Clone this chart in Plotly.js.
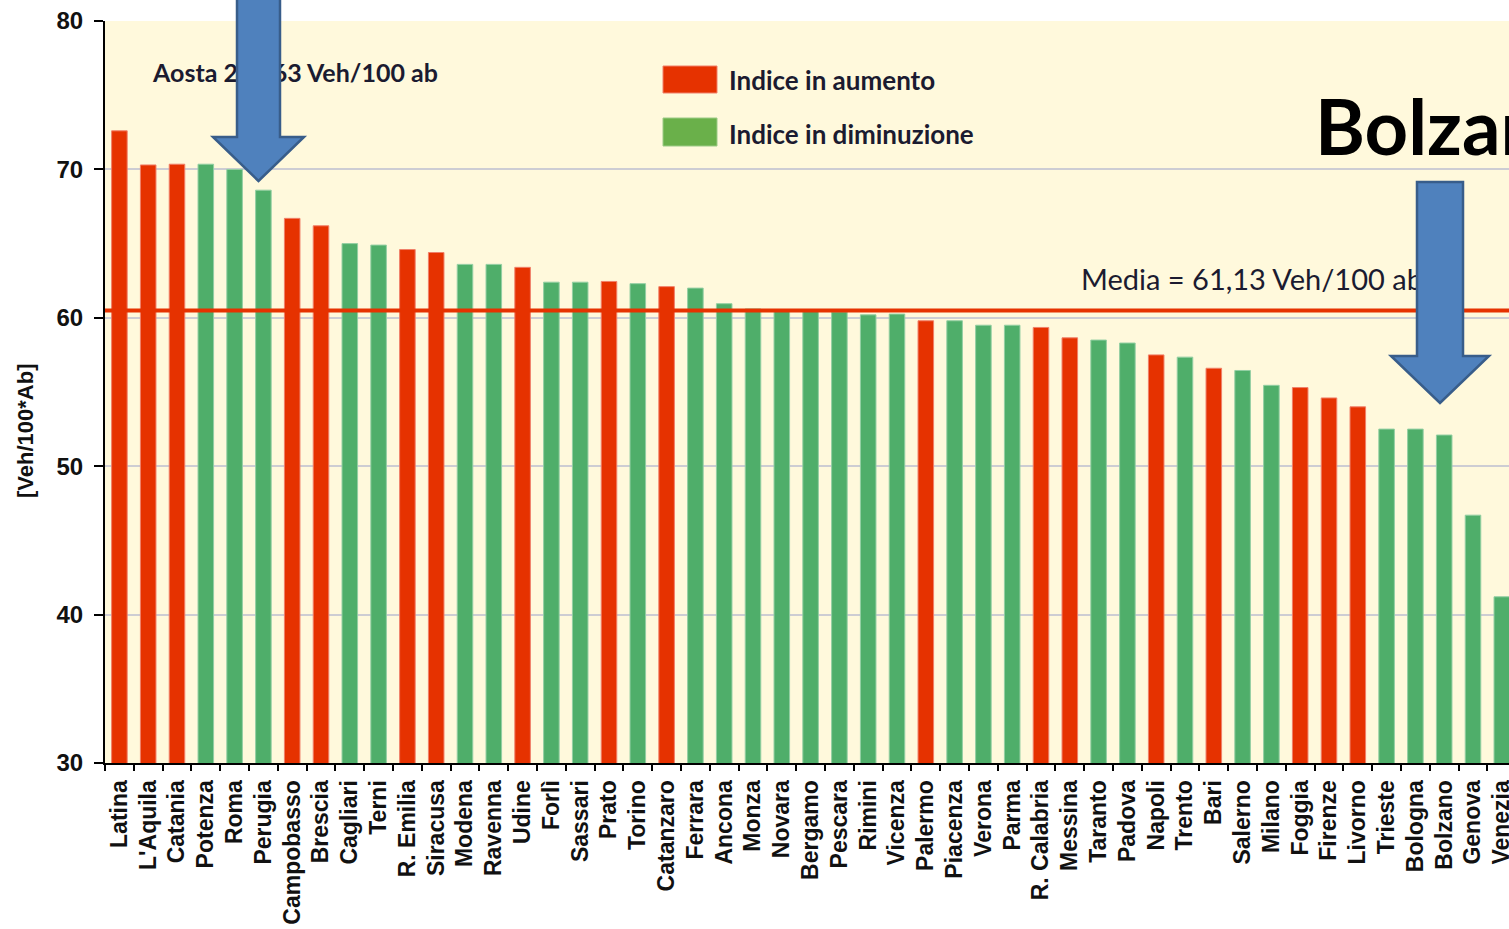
<!DOCTYPE html>
<html>
<head>
<meta charset="utf-8">
<script src="https://cdn.plot.ly/plotly-3.0.1.min.js"></script>
<style>html,body{margin:0;padding:0;background:#fff;}#chart{width:1509px;height:929px;}</style>
</head>
<body>
<div id="chart"></div>
<script>
// ---- data ----
const cities = ["Latina","L'Aquila","Catania","Potenza","Roma","Perugia","Campobasso","Brescia","Cagliari","Terni",
  "R. Emilia","Siracusa","Modena","Ravenna","Udine","Forlì","Sassari","Prato","Torino","Catanzaro",
  "Ferrara","Ancona","Monza","Novara","Bergamo","Pescara","Rimini","Vicenza","Palermo","Piacenza",
  "Verona","Parma","R. Calabria","Messina","Taranto","Padova","Napoli","Trento","Bari","Salerno",
  "Milano","Foggia","Firenze","Livorno","Trieste","Bologna","Bolzano","Genova","Venezia"];
const values = [72.6,70.3,70.35,70.35,70.0,68.6,66.7,66.2,65.0,64.9,
  64.6,64.4,63.6,63.6,63.4,62.4,62.4,62.45,62.3,62.1,
  62.0,60.95,60.6,60.5,60.5,60.4,60.2,60.25,59.8,59.8,
  59.5,59.5,59.35,58.65,58.5,58.3,57.5,57.35,56.6,56.45,
  55.45,55.3,54.6,54.0,52.5,52.5,52.1,46.7,41.2];
// 'A' = Indice in aumento (red), 'D' = Indice in diminuzione (green)
const trend = ["A","A","A","D","D","D","A","A","D","D",
  "A","A","D","D","A","D","D","A","D","A",
  "D","D","D","D","D","D","D","D","A","D",
  "D","D","A","A","D","D","A","D","A","D",
  "D","A","A","A","D","D","D","D","D"];
const legendLabels = ["Indice in aumento","Indice in diminuzione"];
const mediaValue = 60.5;               // position of the drawn average line
const mediaLabel = "Media = 61,13 Veh/100 ab";
const aostaLabel = "Aosta 200,63 Veh/100 ab";
const yTicks = [30,40,50,60,70,80];
const yTitle = "[Veh/100*Ab]";

// ---- styling ----
const RED = "#E63200", RED_EDGE = "#F0806A";
const GREEN = "#4FAE6A", GREEN_EDGE = "#93CFA3";
const LEG_GREEN = "#6AB04A";
const TXT = "#1B1B30";

// plot-area geometry (px) for decorations
const L = 105, R = 1509, T = 21, B = 763;
const px = (x) => (x - L) / (R - L);
const py = (y) => (B - y) / (B - T);
function arrowPath(sl, sr, top, hs, hl, hr, tx, ty) {
  const p = (x, y) => px(x).toFixed(5) + "," + py(y).toFixed(5);
  return "M" + p(sl, top) + " L" + p(sr, top) + " L" + p(sr, hs) + " L" + p(hr, hs) +
         " L" + p(tx, ty) + " L" + p(hl, hs) + " L" + p(sl, hs) + " Z";
}

const barTrace = {
  type: "bar",
  x: cities,
  y: values,
  marker: {
    color: trend.map(t => t === "A" ? RED : GREEN),
    line: { color: trend.map(t => t === "A" ? RED_EDGE : GREEN_EDGE), width: 1 }
  },
  showlegend: false,
  hoverinfo: "x+y"
};

const textTrace = {
  type: "scatter",
  mode: "text",
  xaxis: "x2", yaxis: "y2",
  x: [px(153), px(1081), px(1315)],
  y: [py(76), py(283), py(136)],
  text: [aostaLabel, mediaLabel, "Bolzano"],
  textposition: "middle right",
  textfont: {
    family: ["Lato", "Lato", "Lato"],
    size: [25, 29, 76],
    color: [TXT, TXT, "#000000"],
    weight: [700, 400, 700]
  },
  cliponaxis: false,
  showlegend: false,
  hoverinfo: "skip"
};

const shapes = [
  { type: "line", xref: "paper", yref: "y", x0: 0, x1: 1, y0: mediaValue, y1: mediaValue,
    line: { color: RED, width: 4 }, layer: "above" },
  { type: "path", xref: "paper", yref: "paper", layer: "above",
    path: arrowPath(237, 280, -5, 137, 213, 304, 258.5, 181),
    fillcolor: "#4F81BD", line: { color: "#385D8A", width: 2.5 } },
  { type: "path", xref: "paper", yref: "paper", layer: "above",
    path: arrowPath(1417, 1463, 182, 356, 1391, 1489, 1440, 403),
    fillcolor: "#4F81BD", line: { color: "#385D8A", width: 2.5 } },
  { type: "rect", xref: "paper", yref: "paper", layer: "above",
    x0: px(663), x1: px(717), y0: py(93), y1: py(66),
    fillcolor: RED, line: { color: RED_EDGE, width: 1 } },
  { type: "rect", xref: "paper", yref: "paper", layer: "above",
    x0: px(663), x1: px(717), y0: py(146), y1: py(118),
    fillcolor: LEG_GREEN, line: { color: "#9CCB86", width: 1 } }
];

const annotations = [
  { xref: "paper", yref: "paper", x: px(727), y: py(80), xanchor: "left", yanchor: "middle",
    text: legendLabels[0], showarrow: false, font: { family: "Lato", size: 26, color: TXT, weight: 700 } },
  { xref: "paper", yref: "paper", x: px(727), y: py(134), xanchor: "left", yanchor: "middle",
    text: legendLabels[1], showarrow: false, font: { family: "Lato", size: 26, color: TXT, weight: 700 } },
  { xref: "paper", yref: "paper", x: px(25), y: py(431), xanchor: "center", yanchor: "middle",
    text: yTitle, textangle: -90, showarrow: false,
    font: { family: "Liberation Sans", size: 22, color: "#111111", weight: 700 } }
];

const layout = {
  width: 1509, height: 929,
  margin: { l: L, r: 1509 - R, t: T, b: 929 - B, pad: 0 },
  paper_bgcolor: "#FFFFFF",
  plot_bgcolor: "#FFF9DC",
  bargap: 0.46,
  showlegend: false,
  xaxis: {
    type: "category",
    range: [-0.5, (R - L) / 28.8 - 0.5],
    showline: true, linecolor: "#000000", linewidth: 2,
    ticks: "outside", tickson: "boundaries", ticklen: 6, tickwidth: 2, tickcolor: "#000000",
    tickangle: -90,
    tickfont: { family: "Liberation Sans", size: 23, color: "#111111", weight: 700 },
    ticklabelstandoff: 6,
    showgrid: false, zeroline: false, fixedrange: true
  },
  yaxis: {
    range: [30, 80],
    tickvals: yTicks,
    showline: true, linecolor: "#000000", linewidth: 2,
    ticks: "outside", ticklen: 9, tickwidth: 2, tickcolor: "#000000",
    tickfont: { family: "Liberation Sans", size: 24, color: "#111111", weight: 700 },
    ticklabelstandoff: 6,
    showgrid: true, gridcolor: "#CDCDD3", gridwidth: 2,
    zeroline: false,
    fixedrange: true
  },
  xaxis2: { overlaying: "x", anchor: "y2", range: [0, 1], visible: false, fixedrange: true },
  yaxis2: { overlaying: "y", anchor: "x2", range: [0, 1], visible: false, fixedrange: true },
  shapes: shapes,
  annotations: annotations
};

Plotly.newPlot("chart", [barTrace, textTrace], layout, { displayModeBar: false, staticPlot: true });
</script>
</body>
</html>
